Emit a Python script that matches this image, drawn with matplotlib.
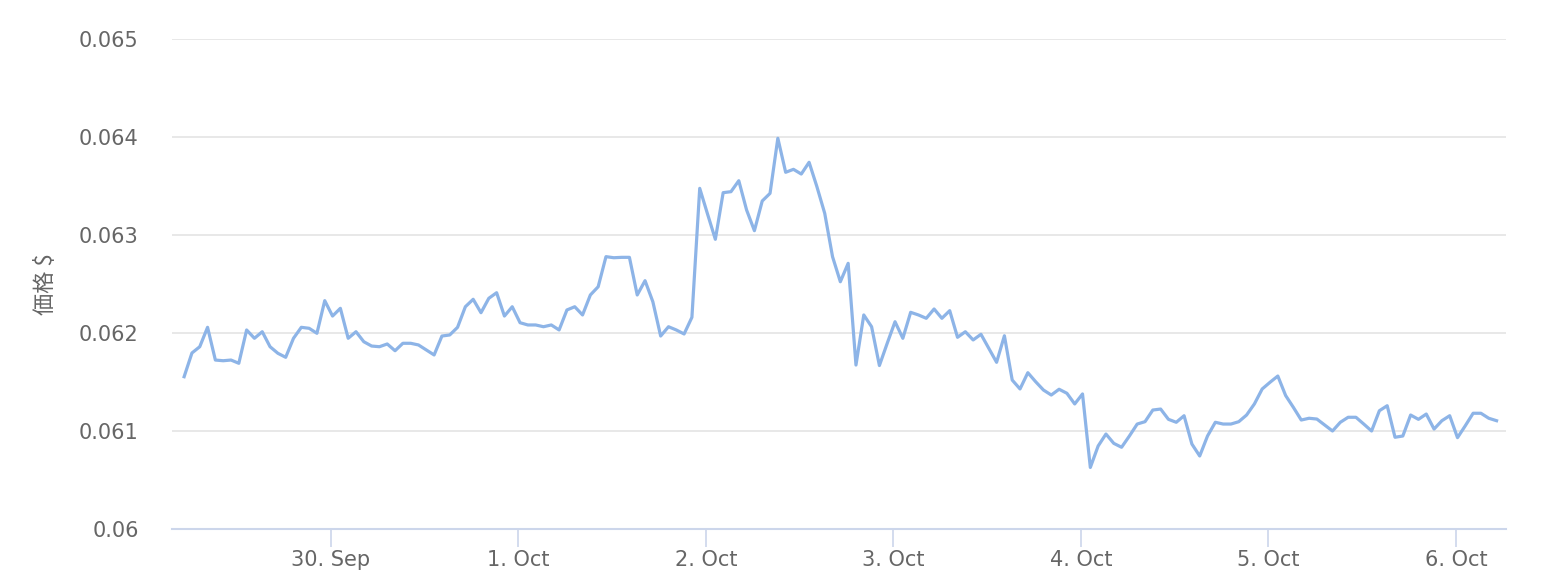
import datetime as dt
import matplotlib
matplotlib.use("Agg")
import matplotlib.pyplot as plt
import matplotlib.dates as mdates

# hourly prices, first point on 29 Sep around 05:10
start = dt.datetime(2021, 9, 29, 5, 12)
prices = [
    0.061554, 0.061796, 0.061860, 0.062058, 0.061724, 0.061717, 0.061724, 0.061691,
    0.062031, 0.061946, 0.062013, 0.061860, 0.061793, 0.061752, 0.061946, 0.062058,
    0.062048, 0.061997, 0.062330, 0.062173, 0.062252, 0.061946, 0.062013, 0.061911,
    0.061867, 0.061860, 0.061888, 0.061819, 0.061895, 0.061895, 0.061878, 0.061827,
    0.061776, 0.061969, 0.061980, 0.062058, 0.062268, 0.062344, 0.062207, 0.062354,
    0.062411, 0.062173, 0.062268, 0.062105, 0.062082, 0.062082, 0.062064, 0.062082,
    0.062031, 0.062235, 0.062268, 0.062184, 0.062388, 0.062472, 0.062779, 0.062768,
    0.062772, 0.062772, 0.062388, 0.062534, 0.062319, 0.061969, 0.062064, 0.062031,
    0.061990, 0.062160, 0.063476, 0.063214, 0.062956, 0.063432, 0.063442, 0.063554,
    0.063255, 0.063044, 0.063347, 0.063425, 0.063987, 0.063640, 0.063670, 0.063622,
    0.063742, 0.063493, 0.063221, 0.062779, 0.062523, 0.062711, 0.061673, 0.062184,
    0.062064, 0.061668, 0.061895, 0.062115, 0.061946, 0.062211, 0.062184, 0.062150,
    0.062245, 0.062150, 0.062228, 0.061956, 0.062013, 0.061929, 0.061987, 0.061844,
    0.061701, 0.061972, 0.061520, 0.061429, 0.061595, 0.061503, 0.061418, 0.061367,
    0.061426, 0.061385, 0.061276, 0.061378, 0.060628, 0.060847, 0.060969, 0.060874,
    0.060834, 0.060949, 0.061071, 0.061095, 0.061214, 0.061224, 0.061119, 0.061089,
    0.061156, 0.060867, 0.060745, 0.060949, 0.061089, 0.061071, 0.061071, 0.061095,
    0.061163, 0.061276, 0.061429, 0.061497, 0.061561, 0.061362, 0.061240, 0.061112,
    0.061130, 0.061122, 0.061061, 0.061000, 0.061089, 0.061140, 0.061140, 0.061071,
    0.061000, 0.061207, 0.061258, 0.060936, 0.060949, 0.061163, 0.061119, 0.061173,
    0.061020, 0.061105, 0.061156, 0.060932, 0.061054, 0.061181, 0.061181, 0.061130,
    0.061105,
]
times = [start + dt.timedelta(hours=i) for i in range(len(prices))]
y_ticks = [0.06, 0.061, 0.062, 0.063, 0.064, 0.065]
y_labels = ["0.06", "0.061", "0.062", "0.063", "0.064", "0.065"]

W, H = 1551, 585
fig = plt.figure(figsize=(W / 100, H / 100), dpi=100)
ax = fig.add_axes([172 / W, 1 - 529 / H, (1506 - 172) / W, (529 - 39) / H])

ax.plot(times, prices, color="#8db4e7", lw=2.3, solid_joinstyle="round")

ax.set_ylim(0.06, 0.065)
ax.set_yticks(y_ticks)
ax.set_yticklabels(y_labels)
ref = mdates.date2num(dt.datetime(2021, 9, 30))
ax.set_xlim(ref - 0.848, ref + 6.267)
ax.xaxis.set_major_locator(mdates.DayLocator())
ax.xaxis.set_major_formatter(mdates.DateFormatter("%-d. %b"))

ax.grid(axis="y", color="#e6e6e6", lw=1.3)
ax.set_axisbelow(True)
for s in ["top", "right", "left"]:
    ax.spines[s].set_visible(False)
ax.spines["bottom"].set_color("#ccd6eb")
ax.spines["bottom"].set_linewidth(1.5)

ax.tick_params(axis="y", length=0, pad=24, labelsize=15, labelcolor="#666666")
ax.tick_params(axis="x", length=13, width=1.2, color="#ccd6eb", pad=2,
               labelsize=15, labelcolor="#666666")

ax.set_ylabel("価格 $", fontsize=16, color="#666666",
              family=["Noto Sans CJK JP", "DejaVu Sans"], labelpad=16)

fig.savefig("out.png", dpi=100)
